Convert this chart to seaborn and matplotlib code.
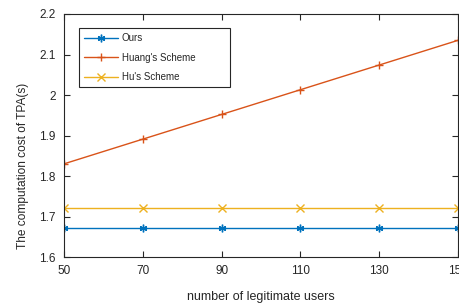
import matplotlib
matplotlib.use("Agg")
import matplotlib.pyplot as plt
import pandas as pd
import seaborn as sns

# values
users = [50, 70, 90, 110, 130, 150]
ours = [1.671, 1.671, 1.671, 1.671, 1.671, 1.671]
huang = [1.830, 1.891, 1.952, 2.013, 2.074, 2.135]
hu = [1.721, 1.721, 1.721, 1.721, 1.721, 1.721]
series_names = ["Ours", "Huang's Scheme", "Hu's Scheme"]

df = pd.DataFrame({
    "users": users * 3,
    "cost": ours + huang + hu,
    "scheme": [series_names[0]] * 6 + [series_names[1]] * 6 + [series_names[2]] * 6,
})

sns.set_style("ticks")
plt.rcParams["font.family"] = ["Liberation Sans", "DejaVu Sans"]

fig = plt.figure(figsize=(4.59, 3.04), dpi=100)
ax = fig.add_axes([64 / 459, 47 / 304, 394 / 459, 243 / 304])

palette = {"Ours": "#0072BD", "Huang's Scheme": "#D95319", "Hu's Scheme": "#EDB120"}
# (6, 2, 0) is a line-art asterisk, like MATLAB's '*'
markers = {"Ours": (6, 2, 0), "Huang's Scheme": "+", "Hu's Scheme": "x"}

sns.lineplot(
    data=df, x="users", y="cost", hue="scheme", style="scheme",
    hue_order=series_names, style_order=series_names,
    palette=palette, markers=markers, dashes=False,
    linewidth=1.0, markersize=5.5, markeredgewidth=1.0, legend=False, ax=ax,
)
# seaborn draws marker edges white; MATLAB markers take the line colour
for line in ax.lines:
    line.set_markeredgecolor(line.get_color())

ax.set_xlim(50, 150)
ax.set_ylim(1.6, 2.2)
ax.set_xticks(users)
ax.set_yticks([1.6, 1.7, 1.8, 1.9, 2.0, 2.1, 2.2])
ax.set_yticklabels(["1.6", "1.7", "1.8", "1.9", "2", "2.1", "2.2"])
ax.set_xlabel("number of legitimate users", fontsize=9, color="#262626", labelpad=10)
ax.set_ylabel("The computation cost of TPA(s)", fontsize=8.6, color="#262626")
ax.yaxis.set_label_coords(-0.089, 0.377)

for side in ["top", "right", "left", "bottom"]:
    ax.spines[side].set_visible(True)
    ax.spines[side].set_color("#262626")
    ax.spines[side].set_linewidth(0.8)
ax.tick_params(direction="in", length=4, width=0.8, colors="#262626",
               labelsize=8.5, top=True, right=True, pad=6)

leg = ax.legend(
    ax.lines[:3], series_names,
    loc="upper left", bbox_to_anchor=(0.038, 0.70, 0.383, 0.242), mode="expand",
    fontsize=7, frameon=True, fancybox=False, edgecolor="#262626", framealpha=1,
    handlelength=3.5, labelspacing=1.0, borderpad=0.5, handletextpad=0.4,
    borderaxespad=0,
)
leg.get_frame().set_linewidth(0.8)

fig.savefig("out.png", dpi=100)
